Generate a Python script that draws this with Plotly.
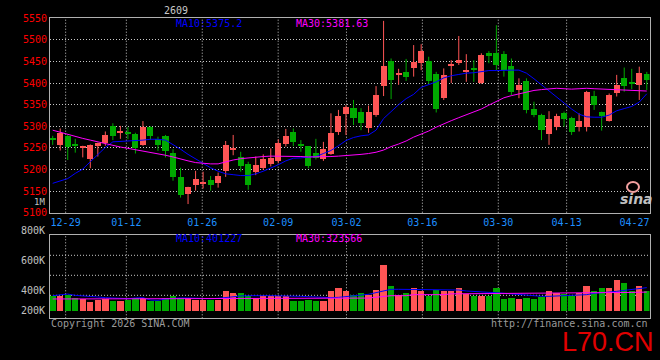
import plotly.graph_objects as go

# ---------------- data ----------------
open_ = [5271, 5257, 5278, 5259, 5251, 5224, 5253, 5261, 5299, 5284,
         5285, 5282, 5257, 5298, 5271, 5278, 5237, 5181, 5143, 5163,
         5166, 5176, 5168, 5195, 5246, 5228, 5212, 5193, 5203, 5212,
         5218, 5259, 5287, 5256, 5253, 5238, 5224, 5235, 5287, 5328,
         5342, 5333, 5296, 5326, 5393, 5451, 5420, 5426, 5434, 5447,
         5451, 5420, 5365, 5439, 5447, 5424, 5433, 5400, 5469, 5469,
         5467, 5440, 5384, 5405, 5340, 5326, 5282, 5298, 5329, 5319,
         5298, 5297, 5370, 5332, 5312, 5376, 5410, 5401, 5396, 5421]
high = [5278, 5295, 5280, 5271, 5255, 5258, 5262, 5288, 5307, 5301,
        5298, 5285, 5312, 5300, 5276, 5280, 5247, 5204, 5160, 5197,
        5195, 5185, 5193, 5266, 5280, 5241, 5218, 5230, 5235, 5249,
        5270, 5294, 5295, 5268, 5254, 5271, 5264, 5330, 5338, 5349,
        5361, 5342, 5348, 5393, 5544, 5457, 5433, 5456, 5488, 5490,
        5461, 5426, 5434, 5453, 5509, 5467, 5453, 5469, 5474, 5534,
        5474, 5457, 5411, 5411, 5357, 5329, 5335, 5329, 5334, 5322,
        5330, 5382, 5382, 5334, 5376, 5419, 5436, 5433, 5438, 5426]
low = [5257, 5244, 5222, 5239, 5228, 5203, 5230, 5255, 5268, 5271,
       5270, 5237, 5255, 5269, 5243, 5228, 5174, 5135, 5120, 5151,
       5156, 5151, 5158, 5183, 5233, 5195, 5153, 5187, 5199, 5207,
       5215, 5253, 5254, 5241, 5203, 5223, 5220, 5234, 5280, 5280,
       5303, 5291, 5285, 5322, 5370, 5363, 5396, 5405, 5415, 5430,
       5398, 5332, 5361, 5400, 5442, 5403, 5403, 5398, 5446, 5430,
       5415, 5372, 5365, 5330, 5321, 5268, 5257, 5291, 5299, 5280,
       5288, 5288, 5338, 5290, 5311, 5369, 5380, 5386, 5361, 5384]
close = [5268, 5284, 5251, 5255, 5253, 5257, 5260, 5280, 5276, 5288,
         5282, 5249, 5298, 5278, 5255, 5241, 5181, 5141, 5158, 5178,
         5170, 5164, 5185, 5257, 5248, 5208, 5164, 5209, 5224, 5227,
         5261, 5278, 5264, 5254, 5208, 5227, 5247, 5284, 5324, 5344,
         5319, 5307, 5332, 5372, 5438, 5407, 5422, 5414, 5449, 5474,
         5405, 5340, 5419, 5441, 5453, 5430, 5430, 5465, 5463, 5442,
         5430, 5378, 5395, 5336, 5326, 5290, 5317, 5324, 5317, 5285,
         5311, 5378, 5349, 5324, 5372, 5396, 5393, 5399, 5423, 5407]
ma10 = [5168, 5174, 5179, 5191, 5201, 5218, 5234, 5251, 5264, 5265,
        5265, 5266, 5268, 5270, 5270, 5268, 5258, 5247, 5235, 5224,
        5214, 5204, 5196, 5190, 5188, 5186, 5186, 5190, 5196, 5203,
        5211, 5220, 5226, 5227, 5228, 5230, 5237, 5244, 5255, 5267,
        5274, 5278, 5280, 5291, 5318, 5335, 5350, 5364, 5374, 5390,
        5397, 5403, 5412, 5417, 5420, 5423, 5424, 5426, 5429, 5429,
        5430, 5430, 5430, 5423, 5410, 5396, 5381, 5369, 5353, 5340,
        5328, 5322, 5321, 5321, 5326, 5336, 5341, 5346, 5356, 5375.2]
ma30 = [5291, 5286, 5282, 5277, 5272, 5268, 5264, 5259, 5256, 5252,
        5249, 5246, 5242, 5239, 5236, 5233, 5229, 5224, 5220, 5216,
        5214, 5213, 5213, 5218, 5222, 5225, 5227, 5229, 5230, 5231,
        5231, 5231, 5230, 5230, 5229, 5229, 5230, 5230, 5231, 5232,
        5234, 5235, 5237, 5240, 5245, 5253, 5259, 5266, 5275, 5282,
        5289, 5298, 5306, 5313, 5320, 5327, 5333, 5340, 5349, 5358,
        5366, 5371, 5375, 5379, 5383, 5385, 5387, 5388, 5387, 5386,
        5387, 5388, 5387, 5386, 5385, 5384, 5383, 5382, 5381, 5381.63]
volume_k = [273, 261, 285, 221, 215, 157, 203, 215, 169, 175,
            198, 227, 238, 169, 169, 227, 261, 232, 238, 198,
            198, 192, 198, 360, 325, 325, 273, 221, 256, 273,
            273, 273, 175, 175, 192, 186, 180, 360, 401, 360,
            290, 314, 290, 377, 795, 430, 290, 325, 401, 360,
            273, 372, 343, 360, 412, 302, 273, 273, 273, 412,
            204, 227, 204, 238, 204, 244, 343, 325, 302, 273,
            325, 447, 343, 412, 412, 534, 482, 360, 430, 360]
vol_ma10_k = [261, 273, 290, 267, 261, 244, 238, 227, 221, 215,
              209, 221, 227, 186, 180, 204, 215, 221, 221, 215,
              209, 209, 215, 232, 244, 256, 261, 256, 261, 261,
              261, 261, 256, 250, 244, 238, 227, 227, 232, 244,
              256, 267, 285, 314, 348, 372, 372, 372, 372, 372,
              372, 372, 372, 372, 360, 343, 331, 325, 319, 314,
              302, 296, 285, 267, 256, 250, 250, 256, 256, 261,
              267, 279, 302, 319, 325, 337, 354, 366, 383, 401.227]
vol_ma30_k = [204, 206, 206, 206, 206, 206, 206, 206, 206, 206,
              206, 209, 209, 209, 209, 209, 209, 209, 209, 209,
              209, 212, 212, 212, 212, 212, 212, 212, 212, 212,
              212, 215, 215, 215, 215, 215, 215, 215, 216, 217,
              218, 219, 220, 232, 256, 261, 261, 261, 279, 279,
              279, 279, 279, 293, 294, 296, 297, 298, 299, 300,
              300, 302, 302, 302, 302, 302, 302, 302, 302, 302,
              302, 302, 302, 302, 308, 312, 316, 318, 321, 323.566]

date_labels = ["12-29", "01-12", "01-26", "02-09", "03-02",
               "03-16", "03-30", "04-13", "04-27"]
date_label_index = [2, 10, 20, 30, 39, 49, 59, 68, 78]
price_ticks = [5100, 5150, 5200, 5250, 5300, 5350, 5400, 5450, 5500, 5550]
vol_tick_labels = ["800K", "600K", "400K", "200K"]
title_text = "2609"
ma10_label = "MA10:5375.2"
ma30_label = "MA30:5381.63"
vol_ma10_label = "MA10:401227"
vol_ma30_label = "MA30:323566"

# ---------------- layout geometry (pixels) ----------------
W, H = 660, 360
PX_L, PX_R = 50.0, 649.5
P_TOP, P_BOT = 18.3, 212.7          # pixel rows of range top / bottom
V_TOP, V_BOT, V_ZERO = 234.5, 318.3, 310.7
V_PX_PER_UNIT = 5.75e-5
X_FIRST, X_STEP = 52.7, 7.52

UP, DOWN = "#FF5555", "#00AA00"
GRID = "#C8C8C8"
BORDER = "#B0B0B0"
MONO = "DejaVu Sans Mono"


def pxx(x):
    return x / W


def pxy(y):
    return 1 - y / H


n = len(close)
idx = list(range(n))
x_range = [(PX_L - X_FIRST) / X_STEP, (PX_R - X_FIRST) / X_STEP]
vol_range = [(V_ZERO - V_BOT) / V_PX_PER_UNIT, (V_ZERO - V_TOP) / V_PX_PER_UNIT]
x_dom = [pxx(PX_L), pxx(PX_R)]
p_dom = [pxy(P_BOT), pxy(P_TOP)]
v_dom = [pxy(V_BOT), pxy(V_TOP)]

volume = [v * 1000 for v in volume_k]
vol_ma10 = [v * 1000 for v in vol_ma10_k]
vol_ma30 = [v * 1000 for v in vol_ma30_k]

is_up = [c >= o for o, c in zip(open_, close)]
colors = [UP if u else DOWN for u in is_up]
MIN_BODY = 1.0 / 0.432  # one pixel in price units
body_base = [min(o, c) for o, c in zip(open_, close)]
body_h = [max(abs(c - o), MIN_BODY) for o, c in zip(open_, close)]

fig = go.Figure()

# wicks
for col, flag in ((UP, True), (DOWN, False)):
    wx, wy = [], []
    for i in idx:
        if is_up[i] == flag:
            wx += [i, i, None]
            wy += [low[i], high[i], None]
    fig.add_trace(go.Scatter(x=wx, y=wy, mode="lines", line=dict(color=col, width=1),
                             hoverinfo="skip", showlegend=False, xaxis="x", yaxis="y"))

# bodies
fig.add_trace(go.Bar(x=idx, y=body_h, base=body_base, width=0.8,
                     marker=dict(color=colors, line=dict(width=0)),
                     showlegend=False, xaxis="x", yaxis="y"))

fig.add_trace(go.Scatter(x=idx, y=ma10, mode="lines", line=dict(color="#0000FF", width=1),
                         showlegend=False, xaxis="x", yaxis="y"))
fig.add_trace(go.Scatter(x=idx, y=ma30, mode="lines", line=dict(color="#FF00FF", width=1),
                         showlegend=False, xaxis="x", yaxis="y"))

# volume
fig.add_trace(go.Bar(x=idx, y=volume, width=0.84,
                     marker=dict(color=colors, line=dict(width=0)),
                     showlegend=False, xaxis="x2", yaxis="y2"))
fig.add_trace(go.Scatter(x=idx, y=vol_ma10, mode="lines", line=dict(color="#0000FF", width=1),
                         showlegend=False, xaxis="x2", yaxis="y2"))
fig.add_trace(go.Scatter(x=idx, y=vol_ma30, mode="lines", line=dict(color="#FF00FF", width=1),
                         showlegend=False, xaxis="x2", yaxis="y2"))

# date tick / grid positions
grid_pos = [i - 0.30 + 0.0094 * i for i in date_label_index]
half_label = 15 / X_STEP
label_pos = [min(g, x_range[1] - half_label) for g in grid_pos]

shapes = []
for g in grid_pos:
    if g > x_range[1] - 1.5:
        continue
    for dom in (p_dom, v_dom):
        shapes.append(dict(type="line", xref="x", yref="paper", x0=g, x1=g, y0=dom[0], y1=dom[1],
                           line=dict(color=GRID, width=1, dash="1px,2px"), layer="below"))
for yy in (255.3, 275.3, 295.3):
    shapes.append(dict(type="line", xref="paper", yref="paper", x0=x_dom[0], x1=x_dom[1],
                       y0=pxy(yy), y1=pxy(yy), line=dict(color=GRID, width=1, dash="1px,2px"),
                       layer="below"))
# sina logo eye
shapes.append(dict(type="circle", xref="paper", yref="paper", x0=pxx(627), x1=pxx(639),
                   y0=pxy(192), y1=pxy(182), line=dict(color="#F2A0A0", width=2)))

annotations = []


def ann(text, x, y, color, size=10, xanchor="left", family=MONO, **kw):
    annotations.append(dict(text=text, x=pxx(x), y=pxy(y), xref="paper", yref="paper",
                            xanchor=xanchor, yanchor="middle", showarrow=False,
                            font=dict(family=family, size=size, color=color), **kw))


ann(title_text, 176, 10, "#C8C8C8", xanchor="center")
ann(ma10_label, 174, 23, "#0000FF")
ann(ma30_label, 294, 23, "#FF00FF")
ann(vol_ma10_label, 174, 238.5, "#0000FF")
ann(vol_ma30_label, 294, 238.5, "#FF00FF")
ann("1M", 47, 201.8, "#C0C0C0", size=9, xanchor="right")
for lab, yy in zip(vol_tick_labels, (230.3, 260.7, 290.7, 310.7)):
    ann(lab, 47, yy, "#C0C0C0", xanchor="right")
ann("Copyright 2026 SINA.COM", 49, 323.5, "#9A9A9A")
ann("http://finance.sina.com.cn", 650, 323.5, "#9A9A9A", xanchor="right")
ann("L70.CN", 656, 342, "#E00000", size=27, xanchor="right", family="Liberation Sans")
ann("<b><i>sina</i></b>", 636, 199, "#C0C0C0", size=14, xanchor="center", family="DejaVu Sans")

axis_common = dict(showline=True, mirror=True, linecolor=BORDER, linewidth=1,
                   zeroline=False, ticks="", fixedrange=True)

fig.update_layout(
    width=W, height=H, autosize=False,
    margin=dict(l=0, r=0, t=0, b=0, pad=0, autoexpand=False),
    paper_bgcolor="#000000", plot_bgcolor="#000000",
    showlegend=False, barmode="overlay", bargap=0,
    xaxis=dict(domain=x_dom, range=x_range, anchor="y", showgrid=False, automargin=False,
               tickmode="array", tickvals=label_pos, ticktext=date_labels,
               tickfont=dict(family=MONO, size=10, color="#1E8FFF"), **axis_common),
    yaxis=dict(domain=p_dom, range=[price_ticks[0], price_ticks[-1]], anchor="x", automargin=False,
               tickmode="array", tickvals=price_ticks, ticktext=[str(t) for t in price_ticks],
               showgrid=True, gridcolor=GRID, griddash="1px,2px", gridwidth=1,
               tickfont=dict(family=MONO, size=10, color="#FF0000"), **axis_common),
    xaxis2=dict(domain=x_dom, range=x_range, anchor="y2", matches="x", showgrid=False,
                automargin=False, showticklabels=False, **axis_common),
    yaxis2=dict(domain=v_dom, range=vol_range, anchor="x2", showgrid=False, automargin=False,
                showticklabels=False, **axis_common),
    shapes=shapes, annotations=annotations,
)

fig.write_html(
    "out.html",
    config={"displayModeBar": False, "responsive": False},
    post_script=("document.documentElement.style.margin='0';"
                 "document.documentElement.style.overflow='hidden';"
                 "document.body.style.margin='0';document.body.style.overflow='hidden';"),
)
